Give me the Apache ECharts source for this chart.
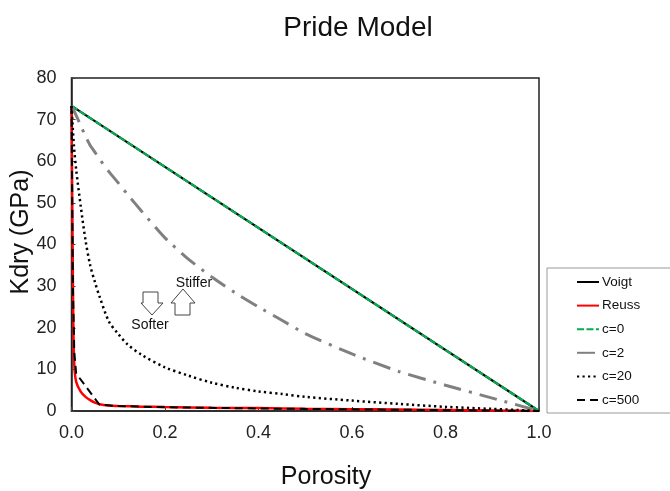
<!DOCTYPE html>
<html>
<head>
<meta charset="utf-8">
<script src="https://cdn.jsdelivr.net/npm/echarts@6/dist/echarts.min.js"></script>
<style>html,body{margin:0;padding:0;background:#fff}#c{width:670px;height:491px}</style>
</head>
<body>
<div id="c"></div>
<script>
// ---- data ----
const voigtPhi = [0, 1];
const voigtK   = [73.3, 0];

const reussPhi = [0, 0.002, 0.004, 0.006, 0.01, 0.02, 0.03, 0.04, 0.05, 0.06, 0.08, 0.1, 0.15, 0.2, 0.3, 0.4, 0.5, 0.6, 0.7, 0.8, 0.9, 1.0];
const reussK   = [73.3, 45, 20, 11, 7, 4.6, 3.4, 2.6, 2.0, 1.6, 1.3, 1.2, 1.05, 0.95, 0.8, 0.7, 0.55, 0.45, 0.35, 0.25, 0.12, 0];

const c0Phi = [0, 1];
const c0K   = [73.3, 0];

const c2Phi = [0, 0.005, 0.01, 0.02, 0.03, 0.04, 0.05, 0.06, 0.08, 0.1, 0.12, 0.15, 0.2, 0.25, 0.3, 0.35, 0.4, 0.45, 0.5, 0.6, 0.7, 0.8, 0.9, 1.0];
const c2K   = [73.3, 72.2, 71, 68.5, 66, 63.8, 62.2, 60.5, 57.5, 54.8, 52.0, 48, 41.6, 36.5, 32.2, 28.4, 25, 21.8, 18.6, 13.7, 9.5, 6.2, 3.1, 0];

const c20Phi = [0, 0.005, 0.01, 0.02, 0.03, 0.04, 0.05, 0.06, 0.08, 0.1, 0.12, 0.15, 0.2, 0.25, 0.3, 0.35, 0.4, 0.45, 0.5, 0.6, 0.7, 0.8, 0.9, 1.0];
const c20K   = [73.3, 64, 58, 49, 41, 35, 31, 27.5, 21.5, 18.5, 16, 13.5, 10.5, 8.5, 6.8, 5.6, 4.7, 4.1, 3.4, 2.5, 1.7, 1.0, 0.5, 0];

const c500Phi = [0, 0.003, 0.006, 0.01, 0.06, 0.1, 0.2, 0.4, 0.6, 0.8, 1.0];
const c500K   = [73.3, 30, 14, 9, 1.5, 1.2, 0.9, 0.6, 0.4, 0.2, 0];

const seriesNames = ['Voigt', 'Reuss', 'c=0', 'c=2', 'c=20', 'c=500'];
const titleText = 'Pride Model';
const xName = 'Porosity';
const yName = 'Kdry (GPa)';

const pairs = (xs, ys) => xs.map((x, i) => [x, ys[i]]);
const FONT = '"Liberation Sans", Arial, sans-serif';

const chart = echarts.init(document.getElementById('c'), null, {renderer: 'canvas'});
chart.setOption({
  animation: false,
  backgroundColor: '#fff',
  title: {
    text: titleText, left: 353, top: 9, textAlign: 'center',
    textStyle: {fontFamily: FONT, fontSize: 28, fontWeight: 'normal', color: '#111'}
  },
  grid: {left: 71.5, right: 131, top: 78, bottom: 80, show: true, borderColor: '#222', borderWidth: 1.5, backgroundColor: 'transparent'},
  xAxis: {
    type: 'value', min: 0, max: 1, interval: 0.2,
    axisLine: {lineStyle: {color: '#222', width: 1.5}},
    axisTick: {inside: true, length: 4, lineStyle: {color: '#444'}},
    splitLine: {show: false},
    axisLabel: {fontFamily: FONT, fontSize: 18, color: '#222', margin: 13, formatter: v => v.toFixed(1)}
  },
  yAxis: {
    type: 'value', min: 0, max: 80, interval: 10,
    axisLine: {lineStyle: {color: '#222', width: 1.5}},
    axisTick: {inside: true, length: 4, lineStyle: {color: '#444'}},
    splitLine: {show: false},
    axisLabel: {fontFamily: FONT, fontSize: 18, color: '#222', margin: 15}
  },
  legend: {
    orient: 'vertical', left: 547, top: 268, width: 140,
    padding: [7, 40, 6, 29],
    itemGap: 9.6, itemWidth: 22, itemHeight: 14,
    backgroundColor: '#fff', borderColor: '#999', borderWidth: 1,
    itemStyle: {opacity: 0, borderWidth: 0},
    textStyle: {fontFamily: FONT, fontSize: 13.5, color: '#111', padding: [0, 0, 0, -2]},
    data: seriesNames
  },
  series: [
    {name: seriesNames[0], type: 'line', symbol: 'none', data: pairs(voigtPhi, voigtK),
     lineStyle: {color: '#000', width: 2.2}, itemStyle: {color: '#000'}, z: 2},
    {name: seriesNames[1], type: 'line', symbol: 'none', smooth: 0.3, data: pairs(reussPhi, reussK),
     lineStyle: {color: '#ff0000', width: 2.5}, itemStyle: {color: '#ff0000'}, z: 2},
    {name: seriesNames[2], type: 'line', symbol: 'none', data: pairs(c0Phi, c0K),
     lineStyle: {color: '#00b050', width: 2.2, type: [7, 2.5]}, itemStyle: {color: '#00b050'}, z: 3},
    {name: seriesNames[3], type: 'line', symbol: 'none', smooth: 0.2, data: pairs(c2Phi, c2K),
     lineStyle: {color: '#808080', width: 3, type: [18, 8, 3, 8]}, itemStyle: {color: '#808080'}, z: 3},
    {name: seriesNames[4], type: 'line', symbol: 'none', smooth: 0.3, data: pairs(c20Phi, c20K),
     lineStyle: {color: '#000', width: 2.5, type: [2.2, 3.3]}, itemStyle: {color: '#000'}, z: 3},
    {name: seriesNames[5], type: 'line', symbol: 'none', data: pairs(c500Phi, c500K),
     lineStyle: {color: '#000', width: 2, type: [8, 5]}, itemStyle: {color: '#000'}, z: 4}
  ],
  graphic: [
    {type: 'polygon', shape: {points: [[143, 292], [158, 292], [158, 303], [163, 303], [152, 315], [141, 303], [143, 303]]},
     style: {fill: '#fff', stroke: '#444', lineWidth: 1}},
    {type: 'polygon', shape: {points: [[175, 315], [190, 315], [190, 303], [195, 303], [183, 289], [171, 303], [175, 303]]},
     style: {fill: '#fff', stroke: '#444', lineWidth: 1}},
    {type: 'text', x: 194, y: 283, style: {text: 'Stiffer', font: '14px ' + FONT, fill: '#111', align: 'center', verticalAlign: 'middle'}},
    {type: 'text', x: 150, y: 325, style: {text: 'Softer', font: '14px ' + FONT, fill: '#111', align: 'center', verticalAlign: 'middle'}},
    {type: 'text', x: 326, y: 477, style: {text: xName, font: '25px ' + FONT, fill: '#111', align: 'center', verticalAlign: 'middle'}},
    {type: 'text', x: 21, y: 232, rotation: Math.PI / 2, style: {text: yName, font: '25px ' + FONT, fill: '#111', align: 'center', verticalAlign: 'middle'}}
  ]
});
</script>
</body>
</html>
